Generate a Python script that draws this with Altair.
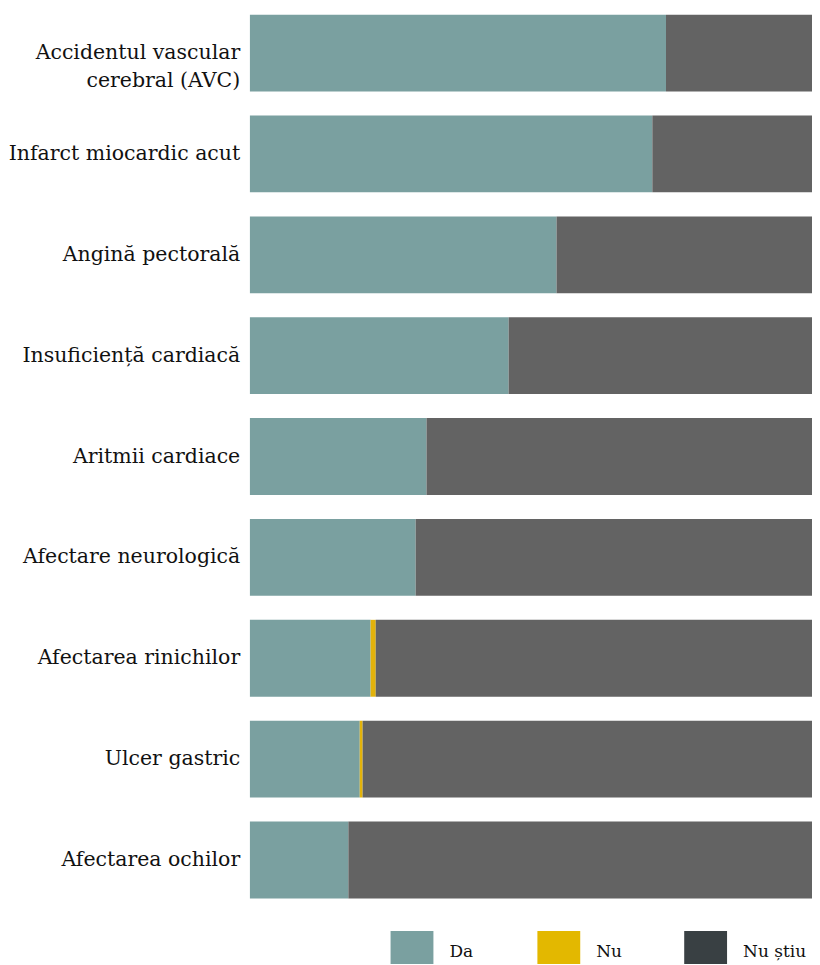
import altair as alt
import pandas as pd

categories = [
    "Accidentul vascular|cerebral (AVC)",
    "Infarct miocardic acut",
    "Angină pectorală",
    "Insuficiență cardiacă",
    "Aritmii cardiace",
    "Afectare neurologică",
    "Afectarea rinichilor",
    "Ulcer gastric",
    "Afectarea ochilor",
]
da = [73.0, 70.6, 53.8, 45.4, 31.0, 29.1, 21.2, 19.3, 17.3]
nu = [0.0, 0.0, 0.0, 0.0, 0.0, 0.0, 0.9, 0.5, 0.0]
nu_stiu = [round(100 - a - b, 1) for a, b in zip(da, nu)]

responses = ["Da", "Nu", "Nu știu"]
bar_colors = ["#7aa0a0", "#e3b30a", "#636363"]
legend_colors = ["#7aa0a0", "#e3b800", "#394043"]

rows = []
for i, c in enumerate(categories):
    for j, (r, v) in enumerate(zip(responses, [da[i], nu[i], nu_stiu[i]])):
        rows.append({"cat": c, "resp": r, "val": v, "ord": j})
df = pd.DataFrame(rows)
legend_df = pd.DataFrame({"resp": responses})

FONT = "DejaVu Serif"

bars = alt.Chart(df).mark_bar(clip=True).encode(
    y=alt.Y(
        "cat:N",
        sort=categories,
        title=None,
        scale=alt.Scale(paddingInner=0.238, paddingOuter=0.06),
        axis=alt.Axis(
            domain=False,
            ticks=False,
            labelFont=FONT,
            labelFontSize=20.5,
            labelColor="#111111",
            labelPadding=10,
            labelLimit=400,
            labelLineHeight=28,
            labelExpr="split(datum.label, '|')",
            minExtent=241,
            maxExtent=241,
        ),
    ),
    x=alt.X(
        "val:Q",
        stack="zero",
        scale=alt.Scale(domain=[0, 98.6], nice=False, zero=True),
        axis=None,
    ),
    fill=alt.Fill(
        "resp:N",
        scale=alt.Scale(domain=responses, range=bar_colors),
        legend=None,
    ),
    order=alt.Order("ord:Q"),
)

legend_layer = alt.Chart(legend_df).mark_rect().encode(
    x=alt.value(0),
    x2=alt.value(0),
    y=alt.value(0),
    y2=alt.value(0),
    color=alt.Color(
        "resp:N",
        scale=alt.Scale(domain=responses, range=legend_colors),
        legend=alt.Legend(
            title=None,
            orient="none",
            legendX=146,
            legendY=928,
            direction="horizontal",
            columns=3,
            gridAlign="all",
            symbolType="M-1.3,-1.3H1.3V0.7H-1.3Z",
            symbolSize=1089,
            symbolStrokeWidth=0,
            symbolOpacity=1,
            labelFont=FONT,
            labelFontSize=17,
            labelColor="#111111",
            labelOffset=21,
            columnPadding=24,
            padding=0,
        ),
    ),
)

chart = alt.layer(bars, legend_layer).resolve_scale(color="independent").properties(
    width=563,
    height=897,
    padding={"left": 0, "top": 0, "right": 0, "bottom": 0},
).configure_view(stroke=None)

chart.save("out.html", embed_options={"renderer": "svg", "actions": False})
